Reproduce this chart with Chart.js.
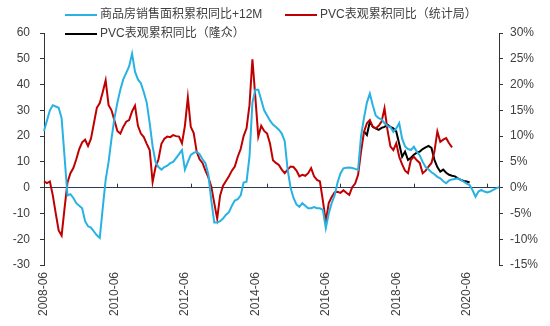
<!DOCTYPE html>
<html>
<head>
<meta charset="utf-8">
<script src="https://cdn.jsdelivr.net/npm/chart.js@4"></script>
<style>
  html, body { margin: 0; padding: 0; background: #fff; }
  #wrap { width: 550px; height: 326px; position: relative; }
</style>
</head>
<body>
<div id="wrap"><canvas id="chart"></canvas></div>
<script>
// Monthly axis 2008-06 .. 2021-05
const firstYear = 2008, firstMonth = 6, monthCount = 156;
const months = [];
for (let i = 0; i < monthCount; i++) {
  const m = firstMonth - 1 + i;
  const y = firstYear + Math.floor(m / 12);
  months.push(y + '-' + String((m % 12) + 1).padStart(2, '0'));
}

const tickLabels = ['2008-06', '2010-06', '2012-06', '2014-06', '2016-06', '2018-06', '2020-06'];

const seriesNames = ['商品房销售面积累积同比+12M', 'PVC表观累积同比（统计局）', 'PVC表观累积同比（隆众）'];

// 商品房销售面积累积同比 (shifted +12M), left axis
const salesArea = [
  22, 26, 30, 32, 31.5, 31, 27, 12, -3, -2.5,
  -4, -6, -7, -8, -13, -15, -15.5, -17, -18.5, -19.5,
  -8, 3, 10, 19, 27, 33, 38, 42, 44.5, 47,
  52, 45, 42, 40.5, 37, 33, 25, 16, 10, 8,
  7, 8, 8.5, 9.5, 10, 11.5, 13, 14.6, 7, 10,
  12.7, 13.5, 14, 13, 11, 9.5, 5, -5, -13.5, -13.5,
  -13, -12, -10.5, -9.5, -7, -5, -4.5, -3, 2, 2.3,
  12, 33, 38, 38, 34, 30, 28, 26, 24.5, 23.5,
  22.5, 21, 18, 7, 0, -4, -6.5, -7.4, -6, -7,
  -8, -8, -7.5, -8, -8, -8.6, -15.7, -10, -6, -3,
  2, 5.5, 7.5, 7.7, 7.8, 7.6, 7.3, 6.9, 20, 27,
  33, 36.5, 32, 28, 27, 26.5, 25, 24, 23.5, 21.7,
  23, 25, 19, 16, 15, 14.6, 15.9, 14, 12.5, 10,
  8, 7, 6, 5.2, 4.2, 3.6, 2.5, 1.7, 2.8, 3.2,
  3.4, 3.6, 3, 2.3, 1.6, 1, -1, -3.5, -1.5, -0.9,
  -1.5, -1.9, -1.5, -0.9, -0.3, 0.2
];

// PVC表观累积同比（统计局）, right axis, %
const pvcStats = [
  1.2, 0.9, 1.2, -1.5, -5, -8.3, -9.3, -4, 1, 2.8,
  3.8, 5.5, 7.5, 8.8, 9.3, 8.1, 9.5, 12.5, 15.5, 16.4,
  18.5, 20.8, 16, 15, 13, 11, 10.5, 11.8, 12.8, 13.1,
  14.8, 15.9, 12, 10.5, 9.8, 8.5, 7.3, 1.1, 4, 5.5,
  8.5, 9.5, 9.9, 9.8, 10.2, 10, 9.9, 8.6, 12, 17.5,
  11.8, 10.6, 7, 5.5, 4.8, 3.3, 2, 0.2, -3, -6,
  -1.5, 0.4, 1.3, 2.2, 3.3, 4.1, 6, 7.5, 10, 11.5,
  16, 24.9, 17.5, 9.9, 12, 11, 10.5, 8.5, 5.3, 4.8,
  4.4, 3.5, 2.8, 3.5, 4.1, 4, 3.3, 2.2, 2.5, 2.3,
  2.8, 3.8, 2.2, 1.5, 1.2, -2.5, -6.6, -3, -1.8, -0.9,
  -0.8, -1, -0.5, -1, -1.4, 0.1, 0.8, 2.5, 7, 10.8,
  12.5, 13.1, 11.8, 11.5, 12, 12.8, 15.4, 11.2, 8, 7.3,
  8.6, 6, 4.5, 3.3, 2.8, 5.4, 6, 5.3, 4.8, 2.8,
  3.3, 4.1, 4.8, 7, 10.9, 8.9, 9.3, 9.6, 8.6, 7.8
];

// PVC表观累积同比（隆众）, right axis, %, starts 2017-07
const pvcLongzhongFrom = '2017-07';
const pvcLongzhong = [
  10.9, 10.2, 12.8, 11.8, 11.5, 11.2, 11.6, 11.8, 12.2, 11.8,
  11.5, 10.9, 8.5, 6, 7, 5.4, 5.8, 6.4, 6.8, 7,
  7.5, 7.8, 8.1, 7.7, 5.4, 4, 3.1, 3.5, 2.9, 2.5,
  2.3, 2.2, 1.8, 1.5, 1.3, 1.2, 1
];

const colors = ['#27b2e3', '#c00000', '#000000'];
const axisColor = '#333333';
const textColor = '#404040';

Chart.defaults.font.family = "'Liberation Sans', Arial, 'Noto Sans CJK SC', sans-serif";
Chart.defaults.font.size = 12;
Chart.defaults.color = textColor;

const lzStart = months.indexOf(pvcLongzhongFrom);

// small tick marks sitting on the zero line
const zeroTicks = {
  id: 'zeroTicks',
  beforeDatasetsDraw(chart) {
    const { ctx, scales: { x, y } } = chart;
    const y0 = y.getPixelForValue(0);
    ctx.save();
    ctx.strokeStyle = axisColor;
    ctx.lineWidth = 1;
    for (let k = 1; k <= 6; k++) {
      const px = Math.round(x.getPixelForValue(Math.round(k * 25.2))) + 0.5;
      ctx.beginPath();
      ctx.moveTo(px, y0);
      ctx.lineTo(px, y0 - 4);
      ctx.stroke();
    }
    ctx.restore();
  }
};

// legend drawn over the top of the plot
const topLegend = {
  id: 'topLegend',
  afterDraw(chart) {
    const ctx = chart.ctx;
    const items = [
      { x: 65, y: 15, i: 0 },
      { x: 285, y: 15, i: 1 },
      { x: 65, y: 34, i: 2 }
    ];
    ctx.save();
    ctx.font = "12px 'Liberation Sans', Arial, 'Noto Sans CJK SC', sans-serif";
    ctx.textBaseline = 'middle';
    ctx.textAlign = 'left';
    items.forEach(it => {
      ctx.strokeStyle = colors[it.i];
      ctx.lineWidth = 2;
      ctx.beginPath();
      ctx.moveTo(it.x, it.y);
      ctx.lineTo(it.x + 32, it.y);
      ctx.stroke();
      ctx.fillStyle = textColor;
      ctx.fillText(seriesNames[it.i], it.x + 35, it.y);
    });
    ctx.restore();
  }
};

new Chart(document.getElementById('chart'), {
  type: 'line',
  data: {
    labels: months,
    datasets: [
      {
        label: seriesNames[0],
        data: salesArea,
        yAxisID: 'y',
        borderColor: colors[0],
        borderWidth: 2,
        pointRadius: 0,
        tension: 0
      },
      {
        label: seriesNames[1],
        data: pvcStats,
        yAxisID: 'y2',
        borderColor: colors[1],
        borderWidth: 2,
        pointRadius: 0,
        tension: 0
      },
      {
        label: seriesNames[2],
        data: pvcLongzhong.map((v, i) => ({ x: months[lzStart + i], y: v })),
        yAxisID: 'y2',
        borderColor: colors[2],
        borderWidth: 2,
        pointRadius: 0,
        tension: 0
      }
    ]
  },
  options: {
    responsive: true,
    maintainAspectRatio: false,
    animation: false,
    layout: { padding: { top: 33, left: 0, right: 0, bottom: 0 } },
    plugins: {
      legend: { display: false },
      tooltip: { enabled: false }
    },
    scales: {
      x: {
        type: 'category',
        offset: false,
        border: { display: false },
        grid: { display: false, drawTicks: false },
        ticks: {
          autoSkip: false,
          maxRotation: 90,
          minRotation: 90,
          padding: 7,
          color: textColor,
          callback(val, i) {
            const lab = months[i];
            return tickLabels.includes(lab) ? lab : '';
          }
        },
        afterFit(s) { s.height = 61; }
      },
      y: {
        position: 'left',
        min: -30,
        max: 60,
        ticks: { stepSize: 10, padding: 10, color: textColor },
        border: { display: true, color: axisColor, width: 1 },
        grid: {
          drawOnChartArea: true,
          tickLength: 4,
          tickColor: axisColor,
          lineWidth: 1,
          color: ctx => (ctx.tick && ctx.tick.value === 0 ? '#2b3a55' : 'rgba(0,0,0,0)')
        },
        afterFit(s) { s.width = 44; }
      },
      y2: {
        position: 'right',
        min: -15,
        max: 30,
        ticks: { stepSize: 5, padding: 7, color: textColor, callback: v => v + '%' },
        border: { display: true, color: axisColor, width: 1 },
        grid: { drawOnChartArea: false, tickLength: 4, tickColor: axisColor },
        afterFit(s) { s.width = 51; }
      }
    }
  },
  plugins: [zeroTicks, topLegend]
});
</script>
</body>
</html>
